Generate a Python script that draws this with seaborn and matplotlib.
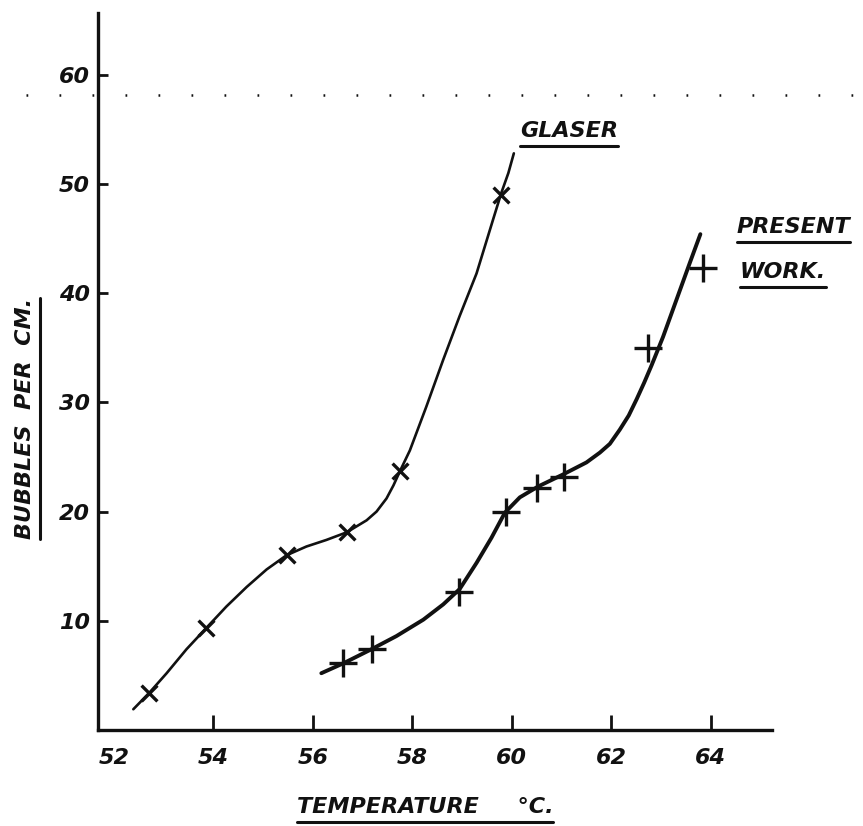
import matplotlib
matplotlib.use("Agg")
import matplotlib.pyplot as plt
from matplotlib.lines import Line2D
import pandas as pd
import seaborn as sns

# Measured bubble densities
glaser_temp = [52.71, 53.86, 55.47, 56.69, 57.75, 59.79]
glaser_bubbles = [3.4, 9.3, 16.0, 18.1, 23.7, 49.0]

present_temp = [56.61, 57.18, 58.94, 59.89, 60.51, 61.04, 62.74, 63.85]
present_bubbles = [6.1, 7.4, 12.6, 20.0, 22.2, 23.2, 35.0, 42.3]

# Hand-drawn smooth curves through each data set
glaser_curve_temp = [52.39, 52.71, 53.06, 53.46, 53.87, 54.26, 54.67, 55.07, 55.47,
                     55.87, 56.27, 56.68, 57.08, 57.28, 57.48, 57.62, 57.75, 57.95,
                     58.28, 58.62, 58.95, 59.29, 59.62, 59.79, 59.93, 60.04]
glaser_curve_bubbles = [1.9, 3.4, 5.2, 7.4, 9.4, 11.3, 13.1, 14.7, 16.0,
                        16.8, 17.4, 18.1, 19.2, 20.0, 21.2, 22.4, 23.7, 25.6,
                        29.6, 33.9, 37.9, 41.8, 46.7, 49.2, 51.0, 52.8]

present_curve_temp = [56.17, 56.61, 57.18, 57.68, 58.22, 58.62, 58.95, 59.29, 59.59,
                      59.86, 60.16, 60.53, 61.03, 61.50, 61.77, 61.97, 62.17, 62.35,
                      62.51, 62.66, 62.81, 63.04, 63.31, 63.58, 63.79]
present_curve_bubbles = [5.2, 6.1, 7.4, 8.6, 10.1, 11.5, 12.9, 15.3, 17.6,
                         19.9, 21.3, 22.3, 23.4, 24.5, 25.4, 26.2, 27.5, 28.8,
                         30.3, 31.8, 33.4, 36.0, 39.4, 42.8, 45.4]

x_ticks = [52, 54, 56, 58, 60, 62, 64]
y_ticks = [10, 20, 30, 40, 50, 60]
reference_level = 58.1

sns.set_theme(style="white")
plt.rcParams["font.family"] = ["DejaVu Sans"]

ink = "#111111"
hand = dict(fontweight="bold", fontstyle="oblique", color=ink)

fig = plt.figure(figsize=(8.63, 8.26), dpi=100)
fig.patch.set_facecolor("white")
ax = fig.add_axes([98 / 863, 1 - 730 / 826, 674 / 863, 717 / 826])
ax.set_facecolor("white")

glaser_line = pd.DataFrame({"t": glaser_curve_temp, "b": glaser_curve_bubbles})
present_line = pd.DataFrame({"t": present_curve_temp, "b": present_curve_bubbles})
glaser_pts = pd.DataFrame({"t": glaser_temp, "b": glaser_bubbles})
present_pts = pd.DataFrame({"t": present_temp, "b": present_bubbles})

sns.lineplot(data=glaser_line, x="t", y="b", sort=False, estimator=None,
             color=ink, linewidth=1.9, ax=ax)
sns.lineplot(data=present_line, x="t", y="b", sort=False, estimator=None,
             color=ink, linewidth=2.8, ax=ax)
sns.scatterplot(data=glaser_pts, x="t", y="b", marker="x", s=130,
                color=ink, linewidth=2.4, ax=ax, zorder=5)
sns.scatterplot(data=present_pts, x="t", y="b", marker="+", s=420,
                color=ink, linewidth=2.4, ax=ax, zorder=5)

ax.set_xlim(51.68, 65.23)
ax.set_ylim(0, 65.65)

# dotted reference level running across the whole sheet
ax.axhline(reference_level, xmin=-0.107, xmax=1.135, clip_on=False,
           color=ink, linewidth=1.8, linestyle=(0, (0.7, 12.5)))

for side in ("top", "right"):
    ax.spines[side].set_visible(False)
for side in ("left", "bottom"):
    ax.spines[side].set_linewidth(2.4)
    ax.spines[side].set_color(ink)

ax.set_xticks(x_ticks)
ax.set_yticks(y_ticks)
ax.set_xticklabels([str(v) for v in x_ticks], fontsize=16, **hand)
ax.set_yticklabels([str(v) for v in y_ticks], fontsize=16, **hand)
ax.tick_params(axis="x", direction="in", length=11, width=2.0, color=ink, pad=13,
               bottom=True)
ax.tick_params(axis="y", direction="in", length=7, width=2.0, color=ink, pad=6,
               left=True)
ax.xaxis.get_major_ticks()[0].tick1line.set_visible(False)

ax.set_xlabel("TEMPERATURE     °C.", fontsize=16, **hand)
ax.set_ylabel("BUBBLES  PER  CM.", fontsize=16, **hand)
ax.xaxis.set_label_coords(0.485, -0.093)
ax.yaxis.set_label_coords(-0.094, 0.435)

t_glaser = ax.text(60.16, 54.3, "GLASER", fontsize=16, ha="left", va="baseline", **hand)
t_present = ax.text(64.52, 45.5, "PRESENT", fontsize=16, ha="left", va="baseline", **hand)
t_work = ax.text(64.58, 41.4, "WORK.", fontsize=16, ha="left", va="baseline", **hand)

fig.canvas.draw()
to_fig = fig.transFigure.inverted()


def underline(text, gap=5, lw=2.2):
    bb = text.get_window_extent()
    y = bb.y0 - gap
    (x0, y0), (x1, _) = to_fig.transform([(bb.x0, y), (bb.x1, y)])
    fig.add_artist(Line2D([x0, x1], [y0, y0], color=ink, linewidth=lw,
                          solid_capstyle="round"))


def sideline(text, gap=5, lw=2.2):
    bb = text.get_window_extent()
    x = bb.x1 + gap
    (x0, y0), (_, y1) = to_fig.transform([(x, bb.y0), (x, bb.y1)])
    fig.add_artist(Line2D([x0, x0], [y0, y1], color=ink, linewidth=lw,
                          solid_capstyle="round"))


for t in (t_glaser, t_present, t_work, ax.xaxis.label):
    underline(t)
sideline(ax.yaxis.label)

fig.savefig("out.png", dpi=100, facecolor="white")
